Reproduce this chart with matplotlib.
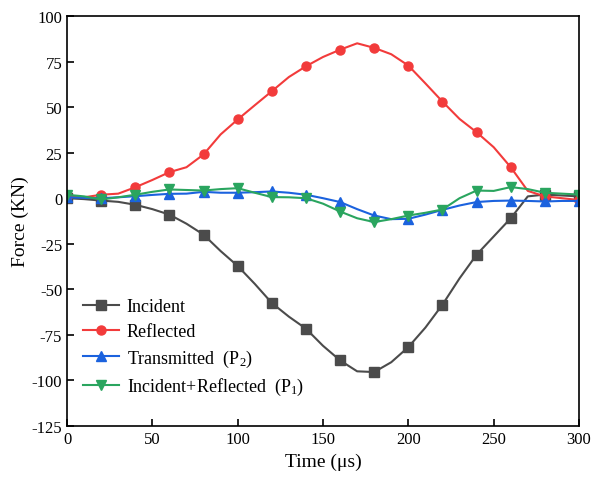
import numpy as np
import matplotlib
matplotlib.use("Agg")
from matplotlib import pyplot as plt

# Time axis (us), sampled every 10 us; markers every 20 us
time_us = np.arange(0, 301, 10)

incident = [0, -0.5, -1.3, -2, -3.6, -6, -9, -14, -20, -29, -37.2, -47, -57.5, -65,
            -71.6, -81, -89, -95, -95.4, -90, -81.7, -71, -58.4, -44, -31, -21, -11,
            1, 2, 1.5, 1]
reflected = [1, 0.5, 1.9, 2.5, 6, 10, 14.3, 17, 24, 35, 43.2, 51, 58.7, 66.5, 72.4,
             77.5, 81.5, 85, 82.5, 79, 72.8, 63, 53, 43.5, 36.2, 28, 17, 4, 1, 0, -1]
transmitted = [0.5, 0.2, 0, 0.5, 1.1, 1.8, 2.4, 2.5, 3.5, 3, 3, 3.3, 3.7, 3, 1.9, 0,
               -2.1, -6, -9.5, -11.5, -11.3, -9, -6.4, -4, -2.1, -1.5, -1.3, -1.5,
               -1.8, -1.5, -1.5]
inc_plus_ref = [1.9, 1, -0.7, 0.5, 1.9, 3.5, 4.8, 4.5, 4.2, 5, 5.5, 3, 0.6, 0.5, 0,
                -3, -7.3, -11, -13.1, -11.5, -9.5, -8, -6.2, 0, 4.2, 4, 6.1, 5, 3,
                2.5, 2]

plt.rcParams['font.family'] = ['Liberation Serif', 'DejaVu Serif']
plt.rcParams['mathtext.fontset'] = 'custom'
plt.rcParams['mathtext.rm'] = 'Liberation Serif'
plt.rcParams['mathtext.it'] = 'Liberation Serif'
plt.rcParams['axes.unicode_minus'] = False

fig = plt.figure(figsize=(6, 4.81), dpi=100)
ax = fig.add_axes([0.1117, 0.1123, 0.8533, 0.8524])

series = [
    (incident, '#4b4b4b', 's', 'Incident'),
    (reflected, '#f23b3b', 'o', 'Reflected'),
    (transmitted, '#1b62de', '^', 'Transmitted  (P$_2$)'),
    (inc_plus_ref, '#2aa55f', 'v', 'Incident+Reflected  (P$_1$)'),
]
for vals, color, marker, label in series:
    ax.plot(time_us, vals, color=color, marker=marker, markevery=2,
            markersize=6.5, linewidth=1.5, label=label)

ax.set_xlim(0, 300)
ax.set_ylim(-125, 100)
ax.set_xticks(np.arange(0, 301, 50))
ax.set_yticks(np.arange(-125, 101, 25))
ax.tick_params(direction='in', length=5, width=1.2, labelsize=12)
for spine in ax.spines.values():
    spine.set_linewidth(1.2)

ax.set_xlabel('Time (μs)', fontsize=14)
ax.set_ylabel('Force (KN)', fontsize=14, labelpad=2)

ax.legend(loc='lower left', bbox_to_anchor=(0.0, 0.03), frameon=False,
          fontsize=13, handlelength=2.0, handletextpad=0.4,
          labelspacing=0.42, borderaxespad=0.5)

plt.savefig('out.png', dpi=100)
